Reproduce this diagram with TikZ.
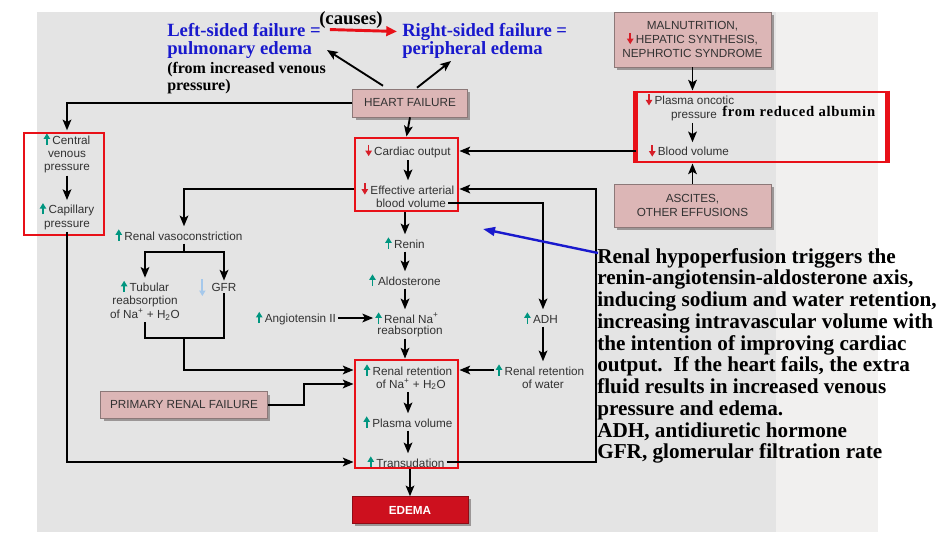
\documentclass[tikz,border=0pt]{standalone}
\usepackage{fontspec}
\setmainfont{Liberation Serif}
\setsansfont{Liberation Sans}
\usetikzlibrary{arrows.meta,shadows,calc}
\definecolor{bgdark}{RGB}{228,228,228}
\definecolor{bglight}{RGB}{241,240,239}
\definecolor{pinkbox}{RGB}{220,182,182}
\definecolor{pinkedge}{RGB}{140,120,120}
\definecolor{shadowc}{RGB}{155,150,150}
\definecolor{cred}{RGB}{232,16,24}
\definecolor{cteal}{RGB}{0,150,128}
\definecolor{cdown}{RGB}{215,30,40}
\definecolor{cgfr}{RGB}{165,200,235}
\definecolor{cblue}{RGB}{25,25,205}
\definecolor{cedema}{RGB}{205,16,30}
\definecolor{ctext}{RGB}{50,50,50}
\newcommand\upa{\tikz[baseline=0pt]\draw[cteal,line width=1.2pt,-{Triangle[length=4.2pt,width=4.8pt]}](0pt,-0.5pt)--(0pt,8pt);\hspace{1.8pt}}
\newcommand\dna{\tikz[baseline=0pt]\draw[cdown,line width=1.2pt,-{Triangle[length=4.2pt,width=4.8pt]}](0pt,8pt)--(0pt,-0.5pt);\hspace{1.8pt}}
\tikzset{
  lbl/.style={font=\sffamily\fontsize{8.8}{10.1}\selectfont, text=ctext, inner sep=1.5pt, align=center},
  boxp/.style={draw=pinkedge, line width=0.4pt, fill=pinkbox, font=\sffamily\fontsize{8.8}{10.4}\selectfont, text=ctext, align=center, inner sep=1pt,
     drop shadow={shadow xshift=2.2pt,shadow yshift=-2.2pt,fill=shadowc,opacity=1}},
  rbox/.style={draw=cred, line width=2.2pt, inner sep=0pt},
  arr/.style={draw=black, line width=1.4pt, -{Stealth[length=8pt,width=6.5pt,inset=1.8pt]}},
  ln/.style={draw=black, line width=1.4pt},
  ttl/.style={font=\bfseries\fontsize{14}{14}\selectfont, text=cblue, inner sep=0pt, anchor=base west},
  ttlb/.style={font=\bfseries\fontsize{12}{12}\selectfont, text=black, inner sep=0pt, anchor=base west},
  carr/.style={draw=cred, line width=2.2pt, -{Triangle[length=8pt,width=7pt]}},
  barr/.style={draw=cblue, line width=1.8pt, -{Triangle[length=9pt,width=6.5pt]}},
  gfra/.style={draw=cgfr, line width=1.3pt, -{Triangle[length=4pt,width=4.5pt]}},
}
\begin{document}
\begin{tikzpicture}[x=0.75pt,y=-0.75pt]
\useasboundingbox (0,0) rectangle (946,542);
\fill[white] (0,0) rectangle (946,542);
\fill[bglight] (37,12) rectangle (878,532);
\fill[bgdark] (37,12) rectangle (776,532);

% titles
\node[ttlb, text=black, font=\bfseries\fontsize{14}{14}\selectfont] (causes) at (319,25) {(causes)};
\node[ttl] (lsf1) at (167,37) {Left-sided failure =};
\node[ttl] (lsf2) at (167,55) {pulmonary edema};
\node[ttlb] (lsf3) at (167,74) {(from increased venous};
\node[ttlb] (lsf4) at (167,91) {pressure)};
\node[ttl] (rsf1) at (402,37) {Right-sided failure =};
\node[ttl] (rsf2) at (402,55) {peripheral edema};
\draw[carr] ($(lsf1.east)+(9,-1)$) -- ($(rsf1.west)+(-5,-1)$);

% heart failure
\node[boxp, minimum width=86pt, minimum height=21pt] (hf) at (410,103) {HEART FAILURE};
\coordinate (lsftip) at (327,50);
\coordinate (rsftip) at (451,61);
\draw[arr] ($(hf.north)+(-27,-3)$) -- (lsftip);
\draw[arr] ($(hf.north)+(7,-1)$) -- (rsftip);

% left column
\node[lbl] (cvp) at (67,153) {\upa Central\\venous\\pressure};
\node[lbl] (cap) at (67,216) {\upa Capillary\\pressure};
\node[rbox, minimum width=60pt, minimum height=76.5pt] (rb1) at (64,184) {};
\draw[arr] (hf.west) -| (cvp.north);
\draw[arr] (cvp.south) -- (cap.north);

% center column
\node[lbl] (co) at (408,151) {\dna Cardiac output};
\node[lbl] (eab1) at (408,189) {\dna Effective arterial};
\node[lbl] (eab2) at (411,203) {blood volume};
\node[rbox, minimum width=77.25pt, minimum height=54.75pt] (rb2) at (406.5,174.5) {};
\draw[arr] (hf.south) -- (rb2.north);
\draw[arr] (co.south) -- (eab1.north);
\node[lbl] (renin) at (405,243) {\upa Renin};
\node[lbl] (aldo) at (405,280) {\upa Aldosterone};
\node[lbl] (rna1) at (407,318) {\upa Renal Na\textsuperscript{+}};
\node[lbl] (rna2) at (410,331) {reabsorption};
\node[lbl] (angio) at (296,318) {\upa Angiotensin II};
\node[lbl] (rrn1) at (408,370) {\upa Renal retention};
\node[lbl] (rrn2) at (411,384) {of Na\textsuperscript{+} + H\textsubscript{2}O};
\node[lbl] (pv) at (408,422) {\upa Plasma volume};
\node[lbl] (tr) at (406,462) {\upa Transudation};
\node[rbox, minimum width=77.25pt, minimum height=81pt] (rb3) at (406.5,414) {};
\node[boxp, fill=cedema, draw=cedema!70!black, text=white, font=\sffamily\bfseries\fontsize{8.8}{10}\selectfont, minimum width=87pt, minimum height=20.25pt] (edema) at (410,510) {EDEMA};
\draw[arr] (rb2.south -| renin) -- (renin.north);
\draw[arr] (renin.south) -- (aldo.north);
\draw[arr] (aldo.south) -- (aldo.south |- rna1.north);
\draw[arr] (rna2.south -| aldo.south) -- (aldo.south |- rb3.north);
\draw[arr] (angio.east) -- (angio.east -| rna1.west);
\draw[arr] (rrn2.south -| pv) -- (pv.north);
\draw[arr] (pv.south) -- (pv.south |- tr.north);
\draw[arr] (rb3.south -| edema) -- (edema.north);
\draw[arr] (cap.south) |- (rb3.west |- tr);

% renal vasoconstriction branch
\node[lbl] (rvc) at (179,235) {\upa Renal vasoconstriction};
\node[lbl] (tub) at (145,300) {\upa Tubular\\reabsorption\\of Na\textsuperscript{+} + H\textsubscript{2}O};
\node[lbl] (gfr) at (224,287) {GFR};
\draw[gfra] ($(gfr.west)+(-7,-8)$) -- ($(gfr.west)+(-7,9)$);
\coordinate (jtop) at (184,252);
\coordinate (jbot) at (184,338);
\draw[arr] (rb2.west |- eab1) -| (rvc.north -| jtop);
\draw[ln] (rvc.south -| jtop) -- (jtop);
\draw[arr] (jtop) -| (tub.north);
\draw[arr] (jtop) -| (gfr.north);
\draw[ln] (tub.south) |- (jbot);
\draw[ln] (gfr.south) |- (jbot);
\draw[arr] (jbot) |- (rb3.west |- rrn1);

\node[boxp, minimum width=125pt, minimum height=20pt] (prf) at (184,405) {PRIMARY RENAL FAILURE};
\draw[arr] (prf.east) -- ++(36,0) |- (rb3.west |- rrn2);

% ADH branch
\node[lbl] (adh) at (541,318) {\upa ADH};
\node[lbl] (rrw1) at (540,370) {\upa Renal retention};
\node[lbl] (rrw2) at (543,384) {of water};
\coordinate (adhx) at (543,0);
\draw[arr] (eab2.east) -| (adhx |- adh.north);
\draw[arr] (adhx |- adh.south) -- (adhx |- rrw1.north);
\draw[arr] (rrw1.west) -- (rb3.east |- rrw1);

% loop from transudation
\coordinate (loop) at (596,189);
\draw[arr] (tr.east) -| (loop) -- (rb2.east |- eab1);

% right side
\node[boxp, minimum width=117.75pt, minimum height=41pt] (mal) at (692.5,39.5) {MALNUTRITION,\\\dna HEPATIC SYNTHESIS,\\NEPHROTIC SYNDROME};
\node[lbl] (poc) at (690,107) {\dna Plasma oncotic\\\hspace*{6pt}pressure};
\node[font=\bfseries\fontsize{11}{11}\selectfont\addfontfeature{LetterSpace=5}, inner sep=0pt, anchor=base west] (fra) at (722,117) {from reduced albumin};
\node[lbl] (bv) at (689,151) {\dna Blood volume};
\node[rbox, minimum width=186.75pt, minimum height=52.5pt] (rb4) at (761.5,127) {};
\draw[cred, line width=3.8pt] (rb4.north west) -- (rb4.south west);
\draw[cred, line width=3.8pt] (rb4.north east) -- (rb4.south east);
\node[boxp, minimum width=117.75pt, minimum height=32pt] (asc) at (692.5,205.5) {ASCITES,\\OTHER EFFUSIONS};
\draw[arr] (mal.south) -- (rb4.north -| mal.south);
\draw[arr] (poc.south -| mal.south) -- (bv.north -| mal.south);
\draw[arr] (asc.north) -- (rb4.south -| asc.north);
\draw[arr] (rb4.west |- bv) -- (rb2.east |- co);

% explanation
\node[font=\bfseries\fontsize{15.9}{16.3}\selectfont, text=black, align=left, inner sep=0pt, anchor=north west] (expl) at (597,248)
 {Renal hypoperfusion triggers the\\renin-angiotensin-aldosterone axis,\\inducing sodium and water retention,\\increasing intravascular volume with\\the intention of improving cardiac\\output.\ \ If the heart fails, the extra\\fluid results in increased venous\\pressure and edema.\\ADH, antidiuretic hormone\\GFR, glomerular filtration rate};
\coordinate (bluetip) at (483,229);
\draw[barr] ($(expl.north west)+(1,5)$) -- (bluetip);
\end{tikzpicture}
\end{document}
